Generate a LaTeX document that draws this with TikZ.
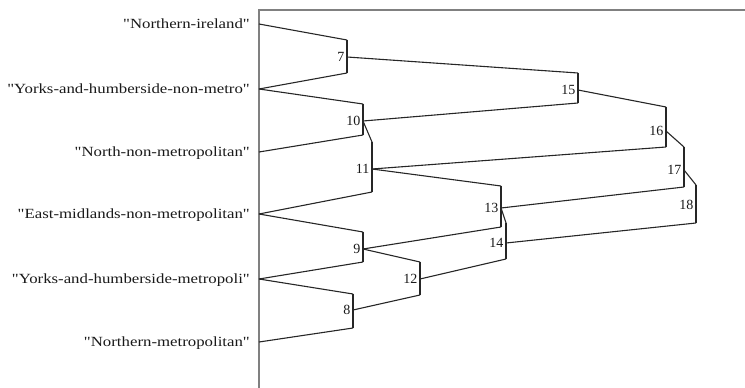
\documentclass[tikz,border=0pt]{standalone}
\usepackage{fontspec}
\setmainfont{Liberation Serif}
\newfontfamily\leaffont{Liberation Serif}[FakeStretch=1.2]
\usetikzlibrary{positioning}

\begin{document}
\begin{tikzpicture}[x=1pt,y=-1pt,
  leaf/.style={anchor=east,inner sep=0pt,text height=9.5pt,text depth=0pt,
    text=black!90,font=\leaffont\fontsize{14}{16}\selectfont},
  num/.style={inner sep=0pt,text height=9.5pt,text depth=0pt,
    text=black!90,font=\fontsize{14}{16}\selectfont},
  link/.style={draw=black!85,line width=1.1pt},
  frame/.style={draw=black!50,line width=1.5pt}]
\useasboundingbox (0,0) rectangle (745,388);

\draw[frame] (259,388) -- (259,10) -- (745,10);

% leaves
\coordinate (l1) at (259,24);
\coordinate (l2) at (259,89);
\coordinate (l3) at (259,152);
\coordinate (l4) at (259,214);
\coordinate (l5) at (259,279);
\coordinate (l6) at (259,342);
\node[leaf] (n1) at (250,24) {"Northern-ireland"};
\node[leaf] (n2) at (250,89) {"Yorks-and-humberside-non-metro"};
\node[leaf] (n3) at (250,152) {"North-non-metropolitan"};
\node[leaf] (n4) at (250,214) {"East-midlands-non-metropolitan"};
\node[leaf] (n5) at (250,279) {"Yorks-and-humberside-metropoli"};
\node[leaf] (n6) at (250,342) {"Northern-metropolitan"};

% clusters: top, bottom and middle of each bar
\coordinate (t7) at (347,40);  \coordinate (b7) at (347,73);  \coordinate (c7) at (347,57);
\coordinate (t8) at (353,294); \coordinate (b8) at (353,328); \coordinate (c8) at (353,310);
\coordinate (t9) at (363,232); \coordinate (b9) at (363,262); \coordinate (c9) at (363,249);
\coordinate (t10) at (363,104); \coordinate (b10) at (363,135); \coordinate (c10) at (363,121);
\coordinate (t11) at (372,142); \coordinate (b11) at (372,192); \coordinate (c11) at (372,169);
\coordinate (t12) at (420,262); \coordinate (b12) at (420,295); \coordinate (c12) at (420,279);
\coordinate (t13) at (501,186); \coordinate (b13) at (501,227); \coordinate (c13) at (501,208);
\coordinate (t14) at (506,223); \coordinate (b14) at (506,259); \coordinate (c14) at (506,243);
\coordinate (t15) at (578,73);  \coordinate (b15) at (578,103); \coordinate (c15) at (578,90);
\coordinate (t16) at (666,107); \coordinate (b16) at (666,147); \coordinate (c16) at (666,131);
\coordinate (t17) at (684,147); \coordinate (b17) at (684,187); \coordinate (c17) at (684,170);
\coordinate (t18) at (696,185); \coordinate (b18) at (696,223); \coordinate (c18) at (696,205);

\draw[link] (t7) -- (b7);   \node[num,left=2.5pt of c7] (k7) {7};
\draw[link] (t8) -- (b8);   \node[num,left=2.5pt of c8] (k8) {8};
\draw[link] (t9) -- (b9);   \node[num,left=2.5pt of c9] (k9) {9};
\draw[link] (t10) -- (b10); \node[num,left=2.5pt of c10] (k10) {10};
\draw[link] (t11) -- (b11); \node[num,left=2.5pt of c11] (k11) {11};
\draw[link] (t12) -- (b12); \node[num,left=2.5pt of c12] (k12) {12};
\draw[link] (t13) -- (b13); \node[num,left=2.5pt of c13] (k13) {13};
\draw[link] (t14) -- (b14); \node[num,left=2.5pt of c14] (k14) {14};
\draw[link] (t15) -- (b15); \node[num,left=2.5pt of c15] (k15) {15};
\draw[link] (t16) -- (b16); \node[num,left=2.5pt of c16] (k16) {16};
\draw[link] (t17) -- (b17); \node[num,left=2.5pt of c17] (k17) {17};
\draw[link] (t18) -- (b18); \node[num,left=2.5pt of c18] (k18) {18};

% joins
\draw[link] (l1) -- (t7);
\draw[link] (l2) -- (b7);
\draw[link] (l2) -- (t10);
\draw[link] (l3) -- (b10);
\draw[link] (l4) -- (t9);
\draw[link] (l5) -- (b9);
\draw[link] (l5) -- (t8);
\draw[link] (l6) -- (b8);
\draw[link] (c10) -- (t11);
\draw[link] (l4) -- (b11);
\draw[link] (c9) -- (t12);
\draw[link] (c8) -- (b12);
\draw[link] (c11) -- (t13);
\draw[link] (c9) -- (b13);
\draw[link] (c13) -- (t14);
\draw[link] (c12) -- (b14);
\draw[link] (c7) -- (t15);
\draw[link] (c10) -- (b15);
\draw[link] (c15) -- (t16);
\draw[link] (c11) -- (b16);
\draw[link] (c16) -- (t17);
\draw[link] (c13) -- (b17);
\draw[link] (c17) -- (t18);
\draw[link] (c14) -- (b18);

\end{tikzpicture}
\end{document}
